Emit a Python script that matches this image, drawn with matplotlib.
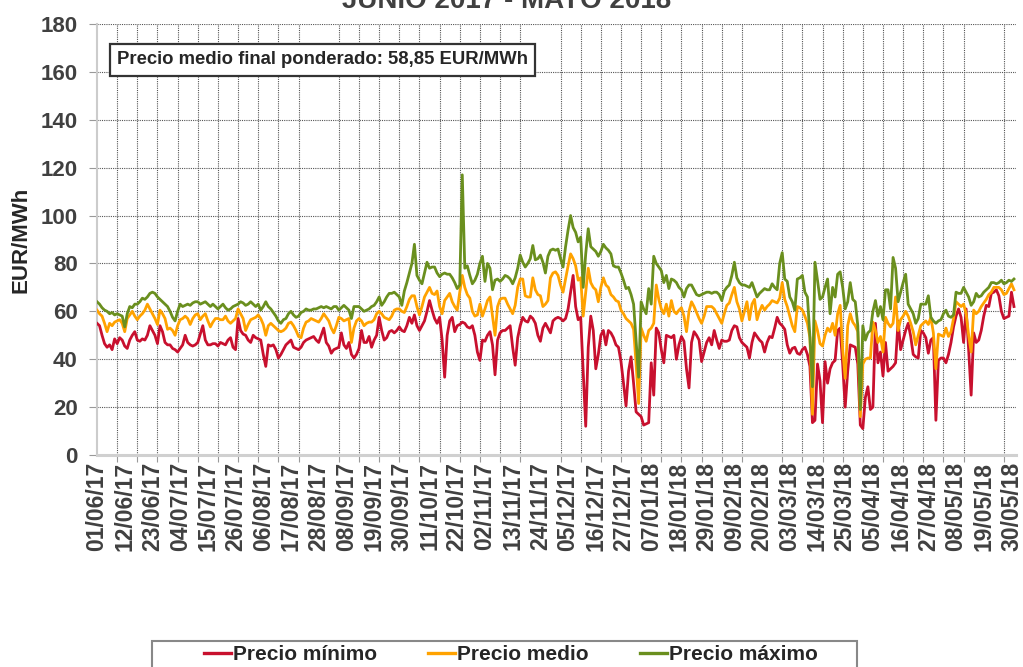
import matplotlib
matplotlib.use('Agg')
import matplotlib.pyplot as plt
from matplotlib.patches import Rectangle
from matplotlib.lines import Line2D
import numpy as np
import pandas as pd

# ---------------- data ----------------
dates = pd.date_range('2017-06-01', '2018-05-31', freq='D')

precio_min = [
    55, 54, 50, 46.5, 45, 46, 44, 48.5, 46.5, 49,
    48, 45.5, 44.5, 48, 50, 51.5, 48, 47.5, 48.5, 48,
    50, 54, 52, 50, 46.5, 54, 51.5, 47, 46, 46,
    44.5, 44, 43, 44.5, 46, 50, 47, 46, 45.5, 46,
    47, 50.5, 54, 48, 46, 46, 46.5, 46.5, 45.5, 47,
    46.5, 46, 48, 49, 45, 44, 57, 52, 50.5, 50,
    48, 47, 50, 49, 48.5, 48, 42, 37, 46, 45.5,
    46, 44, 40.5, 42, 44, 46, 47, 48, 45, 44.5,
    44, 45, 47, 48, 48.5, 49, 49.5, 48, 47, 50,
    53, 47, 45.5, 42.5, 44, 44.5, 45, 51, 46, 44.5,
    47, 42, 40.5, 42, 44.5, 52, 47, 47, 49.5, 45,
    48, 50, 57.5, 52, 48, 49, 51.5, 52, 51, 52,
    53.5, 52, 51.5, 54, 57.5, 55, 58.5, 54, 52, 54,
    56, 60, 64.5, 60.5, 57, 55, 57.5, 48, 32.5, 50,
    56, 57.5, 51.5, 54, 54.5, 55.5, 55, 53.5, 53, 54,
    50, 43, 39.5, 48, 47.5, 50, 51.5, 46, 33.5, 48,
    51, 52, 52, 53, 54, 45, 37.5, 49, 54, 57.5,
    56, 55.5, 58, 57, 55, 50, 47.5, 53, 55, 53,
    51, 56, 57, 57.5, 57, 56, 57, 61, 68, 75,
    62, 56.5, 57.5, 35, 12, 45, 58, 52, 36, 42,
    50, 52, 46, 52, 51, 49, 46, 45, 39, 30,
    20.5, 35, 41, 30, 18, 17, 16, 12.5, 13, 13.5,
    38.5, 25, 53, 51, 44, 38.5, 50, 49.5, 49, 50,
    40, 46, 49.5, 47.5, 36, 28, 47, 51.5, 50, 48,
    39, 43, 47, 49, 46, 52, 48, 44.5, 48, 47.5,
    47.5, 48, 52, 54, 53.5, 49, 47, 46, 45, 40.5,
    47, 51, 49.5, 48, 47, 43, 47, 49.5, 49, 53,
    57.5, 55, 54, 52.5, 46, 42.5, 44.5, 45, 42.5, 42,
    44, 45, 42, 37, 13.5, 14.5, 38, 31, 13.5, 39,
    30, 36, 38.5, 39.5, 52, 53, 38, 20, 35, 46,
    45.5, 45, 38, 12.5, 11, 24, 28.5, 19, 20, 55,
    38.5, 43, 33, 47, 35, 36, 37, 38.5, 56, 44,
    48, 52, 55, 49.5, 42, 41, 40.5, 52, 51, 49,
    42.5, 48, 49, 14.5, 39.5, 40.5, 40.5, 38.5, 42, 47,
    53.5, 58, 61, 57.5, 47, 61, 44, 25, 51, 47,
    48, 52, 58, 62.5, 62, 67.5, 68, 69, 66.5, 60,
    57, 57.5, 58, 68, 62,
]

precio_medio = [
    60.5, 59, 58, 55, 51.5, 55, 54, 55.5, 56, 56.5,
    55, 51.5, 57, 58.5, 60, 58, 56.5, 58, 59, 60.5,
    63, 61, 59, 57, 54.5, 60.5, 59, 57, 52.5, 53,
    52, 50, 54, 56.5, 57, 58, 57, 54.5, 57, 58.5,
    59, 56.5, 58, 59, 56, 53.5, 55.5, 57, 57, 56.5,
    56.5, 58, 56, 55, 56, 57, 61, 59, 57, 52,
    54.5, 56.5, 57, 57.5, 58.5, 57, 54.5, 50, 54, 55,
    54, 53, 52, 51.5, 52, 53, 55, 55.5, 54, 52,
    49.5, 49, 53, 55.5, 56, 57, 56.5, 56, 55.5, 57,
    59, 57.5, 56, 53, 51, 54, 57.5, 57, 56, 56.5,
    57, 47, 53, 56, 57, 56, 54, 55, 55.5, 55.5,
    56.5, 59, 60, 59, 57.5, 57, 56.5, 58, 60.5, 61,
    61, 60, 59.5, 62, 65, 66.5, 66.5, 62, 58.5, 62,
    66, 68, 70, 67.5, 67, 68.5, 62, 59, 64.5, 66,
    67.5, 64, 62, 60.5, 68, 75, 70, 67, 65.5, 60,
    58, 58.5, 63, 58, 61, 64.5, 66, 58, 50, 62,
    65, 65.5, 65.5, 63, 61, 59, 62.5, 70, 73.5, 73.5,
    66.5, 66, 66, 74, 69, 67, 66.5, 62, 63, 64.5,
    74, 76, 76.5, 75, 71, 68, 73.5, 79, 84, 82,
    79, 73, 74, 58, 68, 78, 72, 70, 69, 64,
    70, 74, 71, 70, 67, 66, 64.5, 64, 60.5, 59,
    57, 56, 55, 52.5, 38, 21.5, 53, 50, 47.5, 52,
    53, 55, 71, 65, 61, 59, 63, 58, 64.5, 60,
    59, 60.5, 61.5, 58, 51.5, 60, 64, 62, 59.5, 57,
    55, 58, 62, 62, 62, 61, 59, 57, 55, 59,
    62.5, 63.5, 67, 70, 64, 61, 56, 60, 64, 56.5,
    63, 65, 56.5, 60, 62.5, 60.5, 62, 63, 64.5, 64,
    63.5, 65.5, 72, 65, 62, 58, 54, 51.5, 62, 61.5,
    60.5, 58, 55, 49, 17, 56, 52, 46.5, 45.5, 50,
    53, 51.5, 55, 50, 59, 62.5, 44, 32, 54, 59,
    55.5, 54, 51.5, 16, 38, 40, 40.5, 40.5, 55.5, 52,
    47, 49.5, 43, 57.5, 55, 53.5, 55, 66, 52, 56.5,
    58, 60, 58, 55, 51.5, 46, 50, 54, 55, 56,
    54.5, 57.5, 51, 36, 50.5, 50, 49.5, 53, 49.5, 51.5,
    57, 64, 63, 62, 63, 59, 50, 43, 60.5, 59,
    60, 62, 63.5, 65, 67, 68, 70, 70, 70, 69,
    67, 67.5, 69.5, 71.5, 69,
]

precio_max = [
    64, 63, 61.5, 60.5, 60, 59, 59.5, 58.5, 59, 58.5,
    58, 53.5, 59, 62, 61.5, 63, 63, 64, 65.5, 65,
    66, 67.5, 68, 67.5, 66, 65, 64, 63, 62, 60,
    57.5, 56, 60, 63, 62, 62.5, 63, 62.5, 63.5, 64,
    64, 63, 63.5, 64, 63, 62, 63, 62, 61, 62,
    63, 61.5, 60.5, 61, 62, 62.5, 63, 64, 63.5, 62.5,
    63, 64, 63, 62, 63, 60.5, 62, 64, 62, 61,
    59.5, 58, 56, 55, 56.5, 57, 59, 60, 58.5, 57.5,
    58, 59.5, 60, 61, 60.5, 60.5, 61, 61, 61.5, 62,
    61.5, 62, 61.5, 61, 62, 62, 60.5, 61.5, 62.5, 61.5,
    60.5, 57, 62, 62, 62, 61, 60, 60.5, 61, 62,
    62.5, 64, 66, 62.5, 64, 66, 67.5, 67.5, 68, 67,
    66, 62.5, 68.5, 72, 76, 80, 88, 75, 73, 71.5,
    76, 80.5, 78, 78.5, 78.5, 76, 74.5, 75.5, 76, 75.5,
    75.5, 74, 72, 69.5, 71, 117, 78, 79, 75, 71.5,
    73, 75.5, 80, 83, 72.5, 80, 78, 69, 73, 73.5,
    72.5, 73.5, 75, 74.5, 73.5, 71.5, 74, 78, 83.5, 80.5,
    78.5, 80, 82, 87.5, 81.5, 82, 83.5, 80.5, 76, 83,
    85.5, 86, 85.5, 86, 82, 78.5, 87, 94, 100, 95,
    93, 89, 91, 70, 84, 94.5, 87, 86, 85, 83,
    85, 88, 86.5, 85.5, 84, 79, 78.5, 78.5, 76, 73,
    69.5, 70, 67, 63, 48, 32.5, 64, 61, 59, 69.5,
    63, 83, 80, 78.5, 77, 72, 75, 69.5, 73.5, 73,
    72, 70, 69, 66, 69.5, 71, 71, 69, 67, 66.5,
    67, 67.5, 68, 68, 67.5, 68, 68, 67, 64.5, 68.5,
    70, 71, 75, 80.5, 74, 72, 71, 71, 70.5, 70,
    72, 69, 66, 67.5, 68.5, 69.5, 69, 69, 71.5, 70,
    69, 80, 84.5, 73.5, 72.5, 66, 64, 60.5, 73.5, 74,
    75, 68, 66, 49.5, 28.5, 80.5, 73, 65, 66, 70,
    73.5, 59, 70, 66, 75.5, 76.5, 70, 61, 64, 72,
    65, 64, 54, 19, 54, 48, 51, 52, 60, 64.5,
    58, 62, 56.5, 69, 69, 61, 82.5, 78, 64, 68,
    72, 75.5, 63, 61, 59, 55, 57, 63, 63, 63,
    66.5, 57.5, 56, 55, 56, 56.5, 59, 60.5, 58, 57.5,
    58.5, 68, 67.5, 67.5, 70, 68, 66, 62.5, 64, 67.5,
    66, 66.5, 68, 69, 70, 72, 72, 71.5, 72, 73,
    71.5, 72, 73, 72.5, 73.5,
]

series_names = ['Precio mínimo', 'Precio medio', 'Precio máximo']
series_colors = ['#C8102E', '#FFA200', '#6A8F1E']
title_text = 'JUNIO 2017 - MAYO 2018'
ylabel_text = 'EUR/MWh'
note_text = 'Precio medio final ponderado: 58,85 EUR/MWh'
y_ticks = list(range(0, 181, 20))
label_step = 11
grid_step = 8

assert len(dates) == len(precio_min) == len(precio_medio) == len(precio_max), \
    (len(dates), len(precio_min), len(precio_medio), len(precio_max))

# ---------------- figure ----------------
plt.rcParams['font.family'] = ['Liberation Sans', 'DejaVu Sans']
W, H = 1023, 667
fig = plt.figure(figsize=(W / 100, H / 100), dpi=100)
L, R, T, B = 97, 1016, 24, 455
ax = fig.add_axes([L / W, 1 - B / H, (R - L) / W, (B - T) / H])

x = np.arange(len(dates))
for vals, name, col in zip([precio_min, precio_medio, precio_max], series_names, series_colors):
    ax.plot(x, vals, color=col, lw=2.0, label=name, solid_joinstyle='round', zorder=3)

ax.set_xlim(0, 364.8)
ax.set_ylim(0, 180)
ax.set_yticks(y_ticks)
ax.set_yticklabels([str(v) for v in y_ticks], fontsize=16, fontweight='bold', color='#404040')

ax.set_xticks(x[::label_step])
ax.set_xticklabels([d.strftime('%d/%m/%y') for d in dates[::label_step]],
                   rotation=90, fontsize=16.5, fontweight='bold', color='#404040')
ax.set_xticks(x[::grid_step], minor=True)

ax.grid(which='minor', axis='x', linestyle=(0, (1, 1)), color='#555555', lw=0.8, zorder=1)
ax.grid(which='major', axis='y', linestyle=(0, (1, 1)), color='#555555', lw=0.8, zorder=1)
ax.tick_params(axis='x', which='major', length=0, pad=5)
ax.tick_params(axis='x', which='minor', length=5, color='#999999', width=0.8)
ax.tick_params(axis='y', which='major', length=6, color='#999999', width=0.8, pad=8)

for s in ['top', 'right']:
    ax.spines[s].set_visible(False)
ax.spines['left'].set_color('#cccccc')
ax.spines['left'].set_linewidth(1.5)
ax.spines['bottom'].set_color('#d0d0d0')
ax.spines['bottom'].set_linewidth(2.2)

# title (partly cut at top, as in the reference)
fig.text(507 / W, 1 - 8 / H, title_text, ha='center', va='baseline',
         fontsize=20, fontweight='bold', color='#404040')

# y label
fig.text(21 / W, 1 - 240 / H, ylabel_text, rotation=90, ha='center', va='center',
         fontsize=16, fontweight='bold', color='#262626')

# note box
fig.text(117 / W, 1 - 60 / H, note_text, ha='left', va='center', fontsize=13.3,
         fontweight='bold', color='#262626',
         bbox=dict(boxstyle='square,pad=0.38', fc='white', ec='#333333', lw=1.6))

# legend box + entries
fig.patches.append(Rectangle((152 / W, -0.05), 705 / W, 0.05 + (667 - 641) / H,
                             transform=fig.transFigure, fill=False,
                             edgecolor='#888888', lw=1.5))
handles = [Line2D([0], [0], color=c, lw=2.4) for c in series_colors]
fig.legend(handles, series_names, loc='center', bbox_to_anchor=(511 / W, 1 - 655 / H),
           ncol=3, frameon=False, handlelength=1.3, handletextpad=0.1,
           columnspacing=2.45, prop={'size': 15, 'weight': 'bold'}, labelcolor='#262626')

fig.savefig('out.png', dpi=100)
